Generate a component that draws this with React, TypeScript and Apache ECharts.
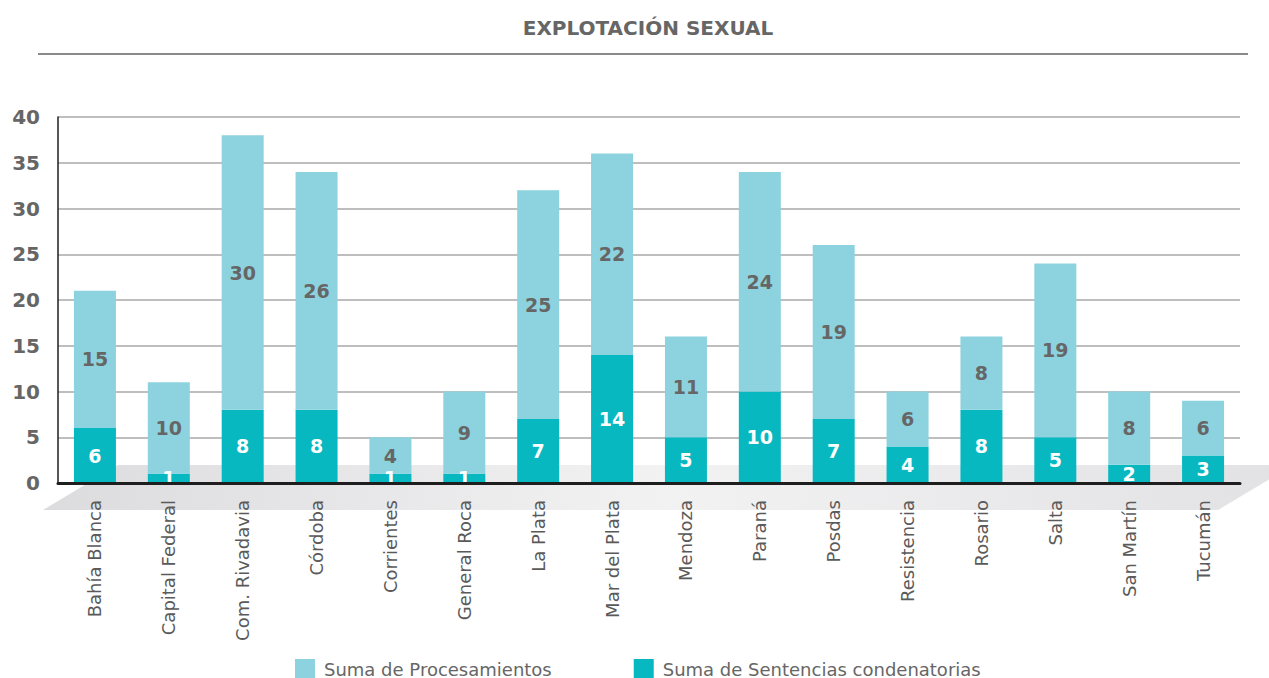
import React, { useEffect, useRef } from "react";
import * as echarts from "echarts";

const categories = [
  "Bahía Blanca", "Capital Federal", "Com. Rivadavia", "Córdoba", "Corrientes",
  "General Roca", "La Plata", "Mar del Plata", "Mendoza", "Paraná", "Posdas",
  "Resistencia", "Rosario", "Salta", "San Martín", "Tucumán",
];
const sentencias = [6, 1, 8, 8, 1, 1, 7, 14, 5, 10, 7, 4, 8, 5, 2, 3];
const procesamientos = [15, 10, 30, 26, 4, 9, 25, 22, 11, 24, 19, 6, 8, 19, 8, 6];
const yTicks = [0, 5, 10, 15, 20, 25, 30, 35, 40];

const FONT = "'DejaVu Sans', 'Noto Sans', sans-serif";

export default function App() {
  const ref = useRef<HTMLDivElement>(null);
  useEffect(() => {
    if (!ref.current) return;
    const chart = echarts.init(ref.current, null, { renderer: "svg" });
    chart.setOption({
      animation: false,
      textStyle: { fontFamily: FONT },
      title: {
        text: "EXPLOTACIÓN SEXUAL",
        left: 643,
        textAlign: "center",
        top: 13,
        textStyle: { fontFamily: FONT, fontSize: 20, fontWeight: "bold", color: "#666666" },
      },
      graphic: [
        {
          type: "line",
          shape: { x1: 38, y1: 54, x2: 1248, y2: 54 },
          style: { stroke: "#8a8a8a", lineWidth: 2 },
          z: 0,
        },
        {
          type: "polygon",
          shape: { points: [[118, 465], [1293, 465], [1218, 510], [43, 510]] },
          style: {
            fill: new echarts.graphic.LinearGradient(0, 0, 1, 0, [
              { offset: 0, color: "#dcdcde" },
              { offset: 0.5, color: "#f2f2f3" },
              { offset: 1, color: "#e2e2e4" },
            ]),
          },
          z: -10,
          silent: true,
        },
      ],
      legend: {
        left: 290,
        top: 654,
        itemWidth: 20,
        itemHeight: 20,
        itemGap: 82,
        icon: "rect",
        data: ["Suma de Procesamientos", "Suma de Sentencias condenatorias"],
        textStyle: { fontFamily: FONT, fontSize: 18, color: "#666666", padding: [0, 0, 0, 4] },
      },
      grid: { left: 58, right: 29, top: 117, bottom: 195, containLabel: false },
      xAxis: {
        type: "category",
        data: categories,
        axisLine: { lineStyle: { color: "#1e1e1e", width: 3 } },
        axisTick: { inside: true, length: 7, lineStyle: { color: "#1e1e1e", width: 2 } },
        axisLabel: {
          rotate: 90,
          margin: 17,
          fontFamily: FONT,
          fontSize: 18,
          color: "#5a5a5a",
          interval: 0,
        },
        z: 10,
      },
      yAxis: {
        type: "value",
        min: yTicks[0],
        max: yTicks[yTicks.length - 1],
        interval: 5,
        axisLine: { show: true, lineStyle: { color: "#1e1e1e", width: 1.5 } },
        axisTick: { show: false },
        splitLine: { lineStyle: { color: "#a8a8a8", width: 1.5 } },
        axisLabel: {
          margin: 18,
          fontFamily: FONT,
          fontSize: 20,
          fontWeight: "bold",
          color: "#666666",
        },
      },
      series: [
        {
          name: "Suma de Sentencias condenatorias",
          type: "bar",
          stack: "total",
          data: sentencias,
          barWidth: 42,
          itemStyle: { color: "#07b8c1" },
          label: {
            show: true,
            position: "inside",
            fontFamily: FONT,
            fontSize: 19,
            fontWeight: "bold",
            color: "#ffffff",
          },
          z: 5,
        },
        {
          name: "Suma de Procesamientos",
          type: "bar",
          stack: "total",
          data: procesamientos,
          barWidth: 42,
          itemStyle: { color: "#8dd3df" },
          label: {
            show: true,
            position: "inside",
            fontFamily: FONT,
            fontSize: 19,
            fontWeight: "bold",
            color: "#666666",
          },
          z: 5,
        },
      ],
    });
    return () => chart.dispose();
  }, []);
  return (
    <div
      ref={ref}
      style={{ position: "absolute", left: 0, top: 0, width: 1269, height: 678 }}
    />
  );
}
